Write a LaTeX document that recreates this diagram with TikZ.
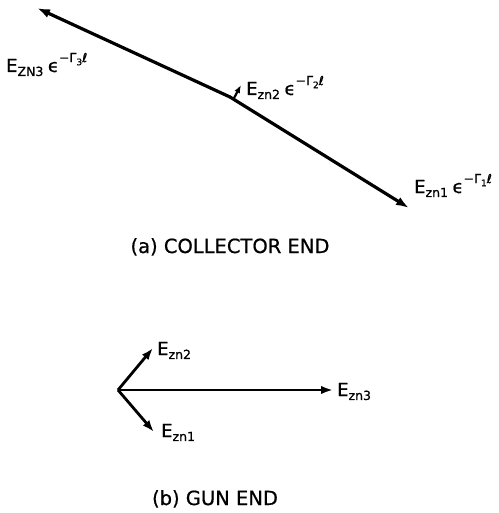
\documentclass[tikz,border=0pt]{standalone}
\usepackage{fontspec}
\setmainfont{DejaVu Sans}
\newfontfamily\lfont[FakeBold=0.7]{DejaVu Sans}
\usetikzlibrary{arrows.meta}
\newcommand{\ezsub}[1]{E\raisebox{-0.22em}{\fontsize{12.5}{12.5}\selectfont #1}}
\newcommand{\ezexp}[1]{\hspace{0.25em}ϵ\raisebox{0.55em}{\fontsize{12.5}{12.5}\selectfont −Γ\raisebox{-0.25em}{\fontsize{9}{9}\selectfont #1}ℓ}}
\tikzset{
  vec/.style={line width=3.2pt, -{Latex[length=13pt,width=9pt]}},
  vecthin/.style={line width=2.8pt, -{Latex[length=12pt,width=8.5pt]}},
  lbl/.style={font=\lfont\fontsize{18}{18}\selectfont, inner sep=0pt, anchor=base west},
  captxt/.style={font=\lfont\fontsize{19.5}{19.5}\selectfont, inner sep=0pt, anchor=base}
}
\begin{document}
\begin{tikzpicture}[x=1pt,y=-1pt]
\useasboundingbox (0,0) rectangle (498,513);
% (a) collector end
\coordinate (J) at (230,97);
\coordinate (T3) at (37,8);
\coordinate (T1) at (409,208);
\coordinate (S0) at (233,100);
\coordinate (S2) at (241,85);
\draw[vec, line cap=round] (J) -- (T3);
\draw[vec, line cap=round] (J) -- (T1);
\draw[line width=2.2pt, -{Latex[length=8pt,width=6pt]}] (S0) -- (S2);
\node[lbl] (L3) at (6,72) {\ezsub{ZN3}\ezexp{3}};
\node[lbl] (L2) at (246,95) {\ezsub{zn2}\ezexp{2}};
\node[lbl] (L1) at (414,193) {\ezsub{zn1}\ezexp{1}};
\node[captxt] (CA) at (230,253) {(a) COLLECTOR END};
% (b) gun end
\coordinate (O) at (118,390);
\coordinate (B2) at (153,348);
\coordinate (B1) at (154,432);
\coordinate (B3) at (333,390);
\draw[vecthin] (O) -- (B2);
\draw[vecthin] (O) -- (B1);
\draw[vecthin] (O) -- (B3);
\node[lbl] (M2) at (157,355) {\ezsub{zn2}};
\node[lbl] (M1) at (161,437) {\ezsub{zn1}};
\node[lbl] (M3) at (337,396) {\ezsub{zn3}};
\node[captxt] (CB) at (215,505) {(b) GUN END};
\end{tikzpicture}
\end{document}
